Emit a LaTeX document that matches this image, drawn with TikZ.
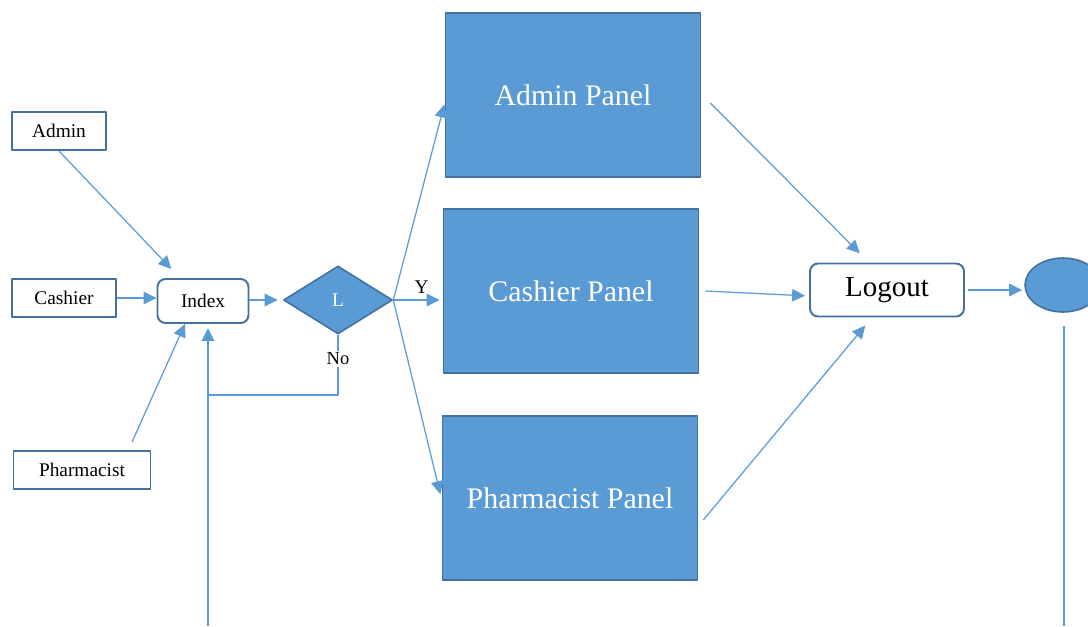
\documentclass[tikz,border=0pt]{standalone}
\usepackage{fontspec}
\setmainfont{Liberation Serif}
\usetikzlibrary{arrows.meta,shapes.geometric,calc}
\definecolor{lineblue}{RGB}{91,155,213}
\definecolor{edgeblue}{RGB}{65,113,156}
\begin{document}
\begin{tikzpicture}[x=0.02cm, y=-0.02cm, line join=round, >={Triangle[length=0.26cm,width=0.25cm]},
		user/.style={draw=edgeblue, line width=1.1pt, minimum height=0.76cm, inner sep=0pt, font=\fontsize{11}{13}\selectfont},
		roundbox/.style={draw=edgeblue, line width=1.1pt, rounded corners=0.16cm, inner sep=0pt},
		panel/.style={draw=edgeblue, line width=0.9pt, fill=lineblue, text=white, minimum width=5.1cm, minimum height=3.28cm, font=\fontsize{17}{20}\selectfont},
		flow/.style={draw=lineblue, line width=0.7pt}]
	\useasboundingbox (0,0) rectangle (1088,626);
	\clip (0,0) rectangle (1088,626);
	% users
	\node[user, minimum width=1.88cm] (Admin) at (59,131) {Admin};
	\node[user, minimum width=2.08cm] (Cashier) at (64,298) {Cashier};
	\node[user, minimum width=2.74cm] (Pharmacist) at (82,470) {Pharmacist};
	% login
	\node[roundbox, minimum width=1.82cm, minimum height=0.88cm, font=\fontsize{11}{13}\selectfont] (Index) at (203,301) {Index};
	\node[diamond, draw=edgeblue, line width=0.9pt, fill=lineblue, text=white, inner sep=0pt, minimum width=2.18cm, minimum height=1.36cm, font=\fontsize{11}{13}\selectfont] (L) at (338,300) {L};
	% panels
	\node[panel] (AdminP) at (573,95) {Admin Panel};
	\node[panel] (CashierP) at (571,291) {Cashier Panel};
	\node[panel] (PharmP) at (570,498) {Pharmacist Panel};
	\node[roundbox, minimum width=3.08cm, minimum height=1.06cm, font=\fontsize{16.5}{19}\selectfont] (Logout) at (887,290) {Logout};
	\node[ellipse, draw=edgeblue, line width=0.9pt, fill=lineblue, minimum width=1.52cm, minimum height=1.08cm] (End) at (1063,285) {};
	\coordinate (nojoin) at (208,395);
	\coordinate (loopin) at (208,626);
	\coordinate (exit) at (1064,626);
	% connectors
	\draw[flow, ->, shorten >=0.25cm] (Admin.south) -- ($(Index.north)+(-23,0)$);
	\draw[flow, ->] (Cashier.east) -- (Cashier.east -| Index.west);
	\draw[flow, ->] ($(Pharmacist.north)+(50,-8)$) -- ($(Index.south)+(-18,0)$);
	\draw[flow, ->, shorten >=0.1cm] (Index.east |- L.west) -- (L.west);
	\draw[flow, ->, shorten >=0.03cm] (L.east) -- ($(AdminP.west)+(0,8)$);
	\draw[flow, ->, shorten >=0.06cm] (L.east) -- node[above, xshift=2pt, font=\fontsize{11}{13}\selectfont]{Y} (L.east -| CashierP.west);
	\draw[flow, ->, shorten >=0.12cm] (L.east) -- ($(PharmP.west)+(0,2)$);
	\draw[flow] (L.south) |- node[pos=0.2, fill=white, inner sep=1pt, font=\fontsize{10.5}{12}\selectfont]{No} (nojoin);
	\draw[flow, ->, shorten >=0.08cm] (loopin) -- (loopin |- Index.south);
	\draw[flow, ->, shorten >=0.26cm] ($(AdminP.east)+(9,8)$) -- ($(Logout.north)+(-18,0)$);
	\draw[flow, ->, shorten >=0.08cm] ($(CashierP.east)+(6,0)$) -- ($(Logout.west)+(0,6)$);
	\draw[flow, ->, shorten >=0.21cm] ($(PharmP.east)+(5,22)$) -- ($(Logout.south)+(-15,0)$);
	\draw[flow, ->, shorten <=0.06cm, shorten >=0.04cm] (Logout.east) -- (Logout.east -| End.west);
	\draw[flow] ($(End.south)+(1,13)$) -- (exit);
\end{tikzpicture}
\end{document}
